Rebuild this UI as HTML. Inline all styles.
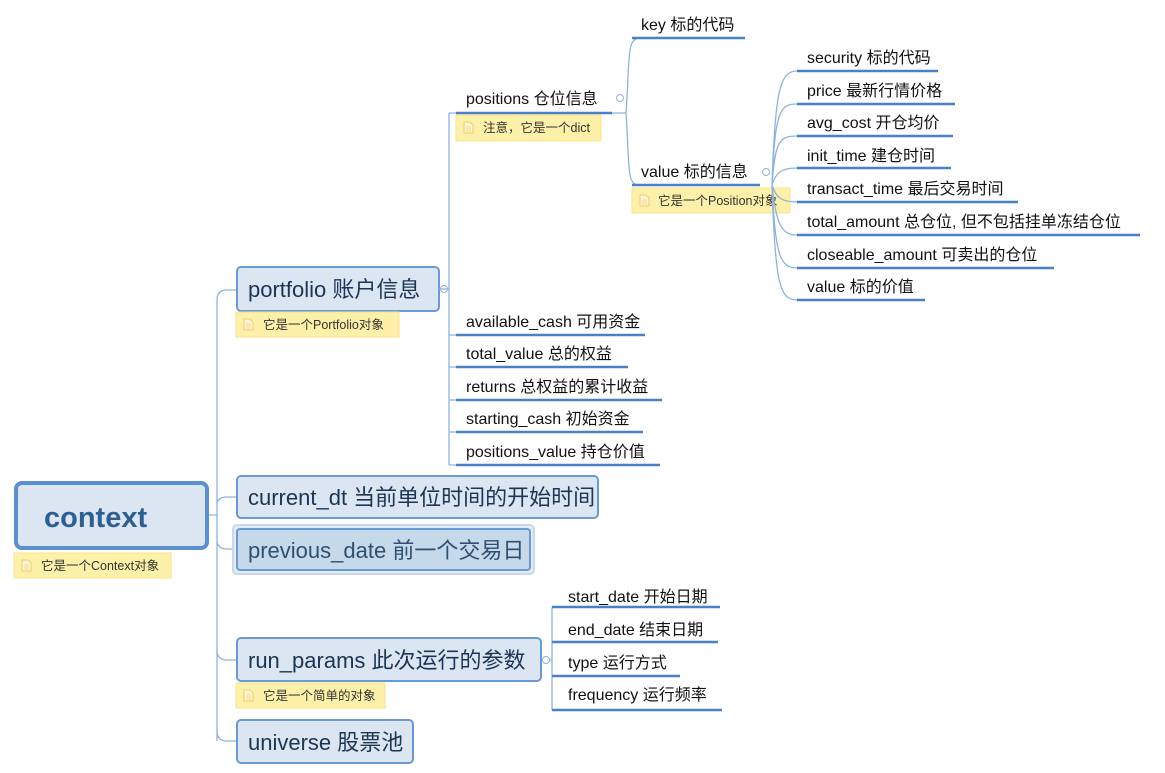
<!DOCTYPE html>
<html><head><meta charset="utf-8"><style>
body{margin:0;background:#fff;}
svg{display:block;font-family:"Liberation Sans","Noto Sans CJK SC",sans-serif;}
.l{font-size:16px;fill:#111;}
.b{font-size:22px;fill:#1c3555;}
.n{font-size:12.5px;fill:#333;}
.u{stroke:#4a80c8;stroke-width:2.5;}
.c{stroke:#8fb3e0;stroke-width:1.3;fill:none;}
.note{fill:#fdf0a8;stroke:#f7e38a;}
.ic{fill:#fff8d8;stroke:#f3c96a;stroke-width:1;}
</style></head><body>
<svg width="1165" height="773" viewBox="0 0 1165 773">
<defs><g id="ic"><path class="ic" d="M0 0 H6 L9 3 V11 H0 Z"/><path d="M2 5 H7 M2 7 H7 M2 9 H7" stroke="#f3c96a" stroke-width="0.8"/></g></defs>
<path class="c" d="M208 515 H217 M217 300 Q217 290 227 290 H236 M217 741 V300 M217 505 Q217 497 227 497 H236 M217 540 Q217 549 227 549 H234 M217 650 Q217 660 227 660 H236 M217 731 Q217 741 227 741 H236"/>
<rect x="16" y="483" width="191" height="65" rx="6" fill="#dce6f2" stroke="#5a8fd0" stroke-width="4"/>
<text x="44" y="527" style="font-size:29px;font-weight:bold;fill:#2d5f94">context</text>
<rect class="note" x="14" y="553" width="157" height="25"/>
<use href="#ic" x="22" y="560"/>
<text class="n" x="41" y="570">它是一个Context对象</text>
<rect x="237" y="267" width="202" height="44" rx="4" fill="#dce6f2" stroke="#6a9ad6" stroke-width="2"/>
<text class="b" x="248" y="297">portfolio 账户信息</text>
<circle cx="444" cy="289" r="3.5" fill="#fff" stroke="#8fb3e0"/>
<rect class="note" x="236" y="312" width="163" height="25"/>
<use href="#ic" x="244" y="319"/>
<text class="n" x="263" y="329">它是一个Portfolio对象</text>
<rect x="237" y="476" width="361" height="42" rx="4" fill="#dce6f2" stroke="#6a9ad6" stroke-width="2"/>
<text class="b" x="248" y="505">current_dt 当前单位时间的开始时间</text>
<rect x="233" y="525" width="301" height="49" rx="4" fill="#e3ecf5" stroke="#c9d9ea" stroke-width="2"/>
<rect x="237" y="529" width="293" height="41" rx="3" fill="#c5d9ea" stroke="#6a9ad6" stroke-width="2"/>
<text class="b" x="248" y="558" style="fill:#2f4f70">previous_date 前一个交易日</text>
<rect x="237" y="638" width="304" height="43" rx="4" fill="#dce6f2" stroke="#6a9ad6" stroke-width="2"/>
<text class="b" x="248" y="668">run_params 此次运行的参数</text>
<circle cx="546" cy="660" r="3.5" fill="#fff" stroke="#8fb3e0"/>
<rect class="note" x="236" y="683" width="149" height="25"/>
<use href="#ic" x="244" y="690"/>
<text class="n" x="263" y="700">它是一个简单的对象</text>
<rect x="237" y="720" width="176" height="43" rx="4" fill="#dce6f2" stroke="#6a9ad6" stroke-width="2"/>
<text class="b" x="248" y="750">universe 股票池</text>
<path class="c" d="M439 289 H449 M449 113 V465 M449 113 H456 M449 335 H456 M449 367 H456 M449 400 H456 M449 432 H456 M449 465 H456"/>
<line class="u" x1="456" y1="113" x2="612" y2="113"/>
<text class="l" x="466" y="104">positions 仓位信息</text>
<circle cx="620" cy="98" r="3.5" fill="#fff" stroke="#8fb3e0"/>
<rect class="note" x="456" y="115" width="145" height="26"/>
<use href="#ic" x="464" y="122"/>
<text class="n" x="483" y="132">注意，它是一个dict</text>
<line class="u" x1="456" y1="335" x2="645" y2="335"/><text class="l" x="466" y="327">available_cash 可用资金</text>
<line class="u" x1="456" y1="367" x2="628" y2="367"/><text class="l" x="466" y="359">total_value 总的权益</text>
<line class="u" x1="456" y1="400" x2="662" y2="400"/><text class="l" x="466" y="392">returns 总权益的累计收益</text>
<line class="u" x1="456" y1="432" x2="643" y2="432"/><text class="l" x="466" y="424">starting_cash 初始资金</text>
<line class="u" x1="456" y1="465" x2="660" y2="465"/><text class="l" x="466" y="457">positions_value 持仓价值</text>
<path class="c" d="M612 113 H626 M626 113 C630 60 626 38 640 38 M626 113 C630 170 626 185 640 185"/>
<line class="u" x1="632" y1="38" x2="745" y2="38"/><text class="l" x="641" y="30">key 标的代码</text>
<line class="u" x1="632" y1="185" x2="760" y2="185"/><text class="l" x="641" y="177">value 标的信息</text>
<circle cx="766" cy="172" r="3.5" fill="#fff" stroke="#8fb3e0"/>
<rect class="note" x="632" y="188" width="158" height="25"/>
<use href="#ic" x="640" y="195"/>
<text class="n" x="658" y="205">它是一个Position对象</text>
<path class="c" d="M772 185 C775 90 780 71 797 71 M772 185 C775 110 780 104 797 104 M772 185 C775 140 780 136 797 136 M772 185 C776 172 782 168 797 168 M772 185 C776 198 782 202 797 202 M772 185 C776 225 782 235 797 235 M772 185 C775 255 780 268 797 268 M772 185 C775 285 780 300 797 300"/>
<line class="u" x1="797" y1="71" x2="938" y2="71"/><text class="l" x="807" y="63">security 标的代码</text>
<line class="u" x1="797" y1="104" x2="955" y2="104"/><text class="l" x="807" y="96">price 最新行情价格</text>
<line class="u" x1="797" y1="136" x2="953" y2="136"/><text class="l" x="807" y="128">avg_cost 开仓均价</text>
<line class="u" x1="797" y1="168" x2="951" y2="168"/><text class="l" x="807" y="161">init_time 建仓时间</text>
<line class="u" x1="797" y1="202" x2="1018" y2="202"/><text class="l" x="807" y="194">transact_time 最后交易时间</text>
<line class="u" x1="797" y1="235" x2="1140" y2="235"/><text class="l" x="807" y="227">total_amount 总仓位, 但不包括挂单冻结仓位</text>
<line class="u" x1="797" y1="268" x2="1054" y2="268"/><text class="l" x="807" y="260">closeable_amount 可卖出的仓位</text>
<line class="u" x1="797" y1="300" x2="925" y2="300"/><text class="l" x="807" y="292">value 标的价值</text>
<path class="c" d="M550 660 H552 M552 607 V710"/>
<line class="u" x1="552" y1="607" x2="720" y2="607"/><text class="l" x="568" y="602">start_date 开始日期</text>
<line class="u" x1="552" y1="642" x2="718" y2="642"/><text class="l" x="568" y="635">end_date 结束日期</text>
<line class="u" x1="552" y1="676" x2="680" y2="676"/><text class="l" x="568" y="668">type 运行方式</text>
<line class="u" x1="552" y1="710" x2="722" y2="710"/><text class="l" x="568" y="700">frequency 运行频率</text>
</svg>
</body></html>
